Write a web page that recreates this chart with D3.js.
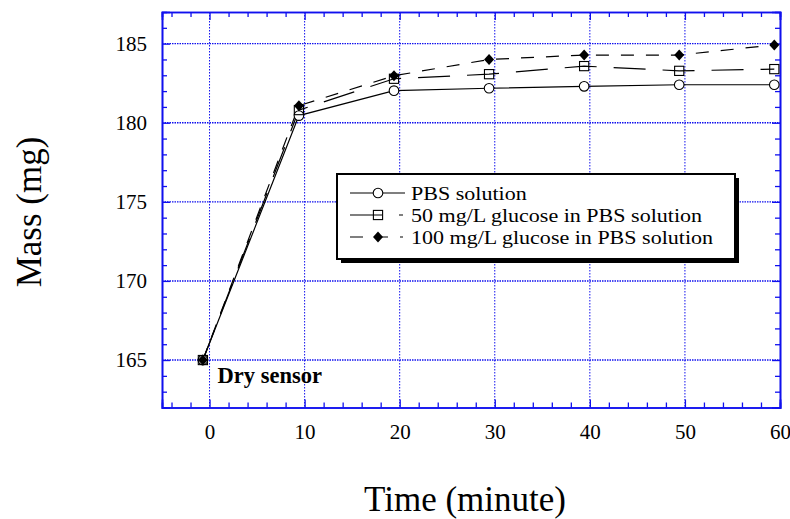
<!DOCTYPE html>
<html>
<head>
<meta charset="utf-8">
<script src="https://cdn.jsdelivr.net/npm/d3@7"></script>
<style>
  body { margin: 0; background: #fff; }
  svg { display: block; }
</style>
</head>
<body>
<script>
// data
var times = [-0.7, 9.4, 19.4, 29.4, 39.4, 49.4, 59.4];
var pbs = [165, 180.45, 182.03, 182.18, 182.3, 182.4, 182.4];
var glu50 = [165, 180.8, 182.78, 183.07, 183.58, 183.28, 183.39];
var glu100 = [165, 181.08, 182.97, 184.0, 184.28, 184.28, 184.92];
var seriesNames = ["PBS solution", "50 mg/L glucose in PBS solution", "100 mg/L glucose in PBS solution"];
var xMajor = [0, 10, 20, 30, 40, 50, 60];
var yMajor = [165, 170, 175, 180, 185];

var W = 790, H = 519;
var margin = {top: 12, right: 10, bottom: 111.5, left: 162},
    width = W - margin.left - margin.right,
    height = H - margin.top - margin.bottom;

var blue = "#1010ee";
var serif = "'Liberation Serif', 'Times New Roman', serif";

var svg = d3.select("body").append("svg")
    .attr("width", W)
    .attr("height", H);

var g = svg.append("g")
    .attr("transform", "translate(" + margin.left + "," + margin.top + ")");

var x = d3.scaleLinear().domain([-5, 60]).range([0, width]);
var y = d3.scaleLinear().domain([162, 187]).range([height, 0]);

// grid lines (dotted blue)
g.selectAll(".vgrid")
    .data(xMajor.filter(function(d) { return d > -5 && d < 60; }))
  .enter().append("line")
    .attr("x1", function(d) { return x(d); })
    .attr("x2", function(d) { return x(d); })
    .attr("y1", 0).attr("y2", height)
    .attr("stroke", blue).attr("stroke-width", 1)
    .attr("stroke-dasharray", "1.5,1.5");

g.selectAll(".hgrid")
    .data(yMajor)
  .enter().append("line")
    .attr("x1", 0).attr("x2", width)
    .attr("y1", function(d) { return y(d); })
    .attr("y2", function(d) { return y(d); })
    .attr("stroke", blue).attr("stroke-width", 1.4)
    .attr("stroke-dasharray", "1.5,1");

// axes: minor + major inward ticks on all four sides
var xMinor = d3.range(-4, 60, 2).filter(function(d) { return d % 10 != 0; });
var yMinor = d3.range(163, 187, 1).filter(function(d) { return d % 5 != 0; });

function styleAxis(sel) {
  sel.selectAll("path").attr("stroke", blue).attr("stroke-width", 1.6);
  sel.selectAll("line").attr("stroke", blue).attr("stroke-width", 1.3);
  sel.selectAll("text").attr("fill", "#000").style("font-size", "21px")
    .style("font-family", serif);
}

// bottom
g.append("g").attr("transform", "translate(0," + height + ")")
    .call(d3.axisBottom(x).tickValues(xMinor).tickSize(-5).tickFormat(""))
    .call(styleAxis);
g.append("g").attr("transform", "translate(0," + height + ")")
    .call(d3.axisBottom(x).tickValues(xMajor).tickSize(-8).tickFormat(d3.format("d")))
    .call(styleAxis)
    .call(function(a) { a.selectAll("text").attr("dy", "0.71em").attr("y", 16.5); });
// top
g.append("g")
    .call(d3.axisTop(x).tickValues(xMinor).tickSize(-5).tickFormat(""))
    .call(styleAxis);
g.append("g")
    .call(d3.axisTop(x).tickValues(xMajor).tickSize(-8).tickFormat(""))
    .call(styleAxis);
// left
g.append("g")
    .call(d3.axisLeft(y).tickValues(yMinor).tickSize(-5).tickFormat(""))
    .call(styleAxis);
g.append("g")
    .call(d3.axisLeft(y).tickValues(yMajor).tickSize(-8).tickFormat(d3.format("d")))
    .call(styleAxis)
    .call(function(a) { a.selectAll("text").attr("x", -15); });
// right
g.append("g").attr("transform", "translate(" + width + ",0)")
    .call(d3.axisRight(y).tickValues(yMinor).tickSize(-5).tickFormat(""))
    .call(styleAxis);
g.append("g").attr("transform", "translate(" + width + ",0)")
    .call(d3.axisRight(y).tickValues(yMajor).tickSize(-8).tickFormat(""))
    .call(styleAxis);

// series
var series = [
  {name: seriesNames[0], values: pbs, dash: null, marker: "circle"},
  {name: seriesNames[1], values: glu50, dash: "32,17", marker: "square"},
  {name: seriesNames[2], values: glu100, dash: "13,12", marker: "diamond"}
];

var line = d3.line()
    .x(function(d) { return x(d[0]); })
    .y(function(d) { return y(d[1]); });

function drawMarker(sel, type) {
  if (type == "circle") {
    sel.append("circle").attr("r", 4.8)
      .attr("fill", "#fff").attr("stroke", "#000").attr("stroke-width", 1.1);
  } else if (type == "square") {
    sel.append("rect").attr("x", -4.6).attr("y", -4.6).attr("width", 9.2).attr("height", 9.2)
      .attr("fill", "none").attr("stroke", "#000").attr("stroke-width", 1.1);
  } else {
    sel.append("path").attr("d", "M0,-5.5L5,0L0,5.5L-5,0Z").attr("fill", "#000");
  }
}

series.forEach(function(s) {
  var pts = times.map(function(t, i) { return [t, s.values[i]]; });
  g.append("path")
    .attr("d", line(pts))
    .attr("fill", "none")
    .attr("stroke", "#000")
    .attr("stroke-width", 1.2)
    .attr("stroke-dasharray", s.dash);
});

series.forEach(function(s) {
  var pts = times.map(function(t, i) { return [t, s.values[i]]; });
  g.selectAll(".m-" + s.marker)
      .data(pts)
    .enter().append("g")
      .attr("class", "m-" + s.marker)
      .attr("transform", function(d) { return "translate(" + x(d[0]) + "," + y(d[1]) + ")"; })
      .each(function() { drawMarker(d3.select(this), s.marker); });
});

// Dry sensor label
g.append("text")
    .attr("x", x(0) + 8)
    .attr("y", y(165) + 23)
    .style("font-family", serif)
    .style("font-size", "22.5px")
    .style("font-weight", "bold")
    .text("Dry sensor");

// legend
var lg = g.append("g").attr("transform", "translate(" + (337 - margin.left) + "," + (174 - margin.top) + ")");
lg.append("rect").attr("x", 4).attr("y", 4).attr("width", 398).attr("height", 85).attr("fill", "#000");
lg.append("rect").attr("x", 0).attr("y", 0).attr("width", 398).attr("height", 85)
    .attr("fill", "#fff").attr("stroke", "#000").attr("stroke-width", 2);

series.forEach(function(s, i) {
  var row = lg.append("g").attr("transform", "translate(0," + (19 + i * 22) + ")");
  row.append("line")
    .attr("x1", 13).attr("x2", s.dash ? 66 : 68)
    .attr("y1", 0).attr("y2", 0)
    .attr("stroke", "#000").attr("stroke-width", 1.2)
    .attr("stroke-dasharray", s.dash);
  drawMarker(row.append("g").attr("transform", "translate(41,0)"), s.marker);
  // original lettering is a little wider than the font, so stretch it
  row.append("text")
    .attr("transform", "translate(74,6.5) scale(1.13,1)")
    .style("font-family", serif)
    .style("font-size", "19.5px")
    .text(s.name);
});

// axis titles
svg.append("text")
    .attr("x", 465)
    .attr("y", 511)
    .attr("text-anchor", "middle")
    .style("font-family", serif)
    .style("font-size", "35px")
    .text("Time (minute)");

svg.append("text")
    .attr("transform", "translate(41," + 212 + ") rotate(-90)")
    .attr("text-anchor", "middle")
    .style("font-family", serif)
    .style("font-size", "35px")
    .text("Mass (mg)");
</script>
</body>
</html>
